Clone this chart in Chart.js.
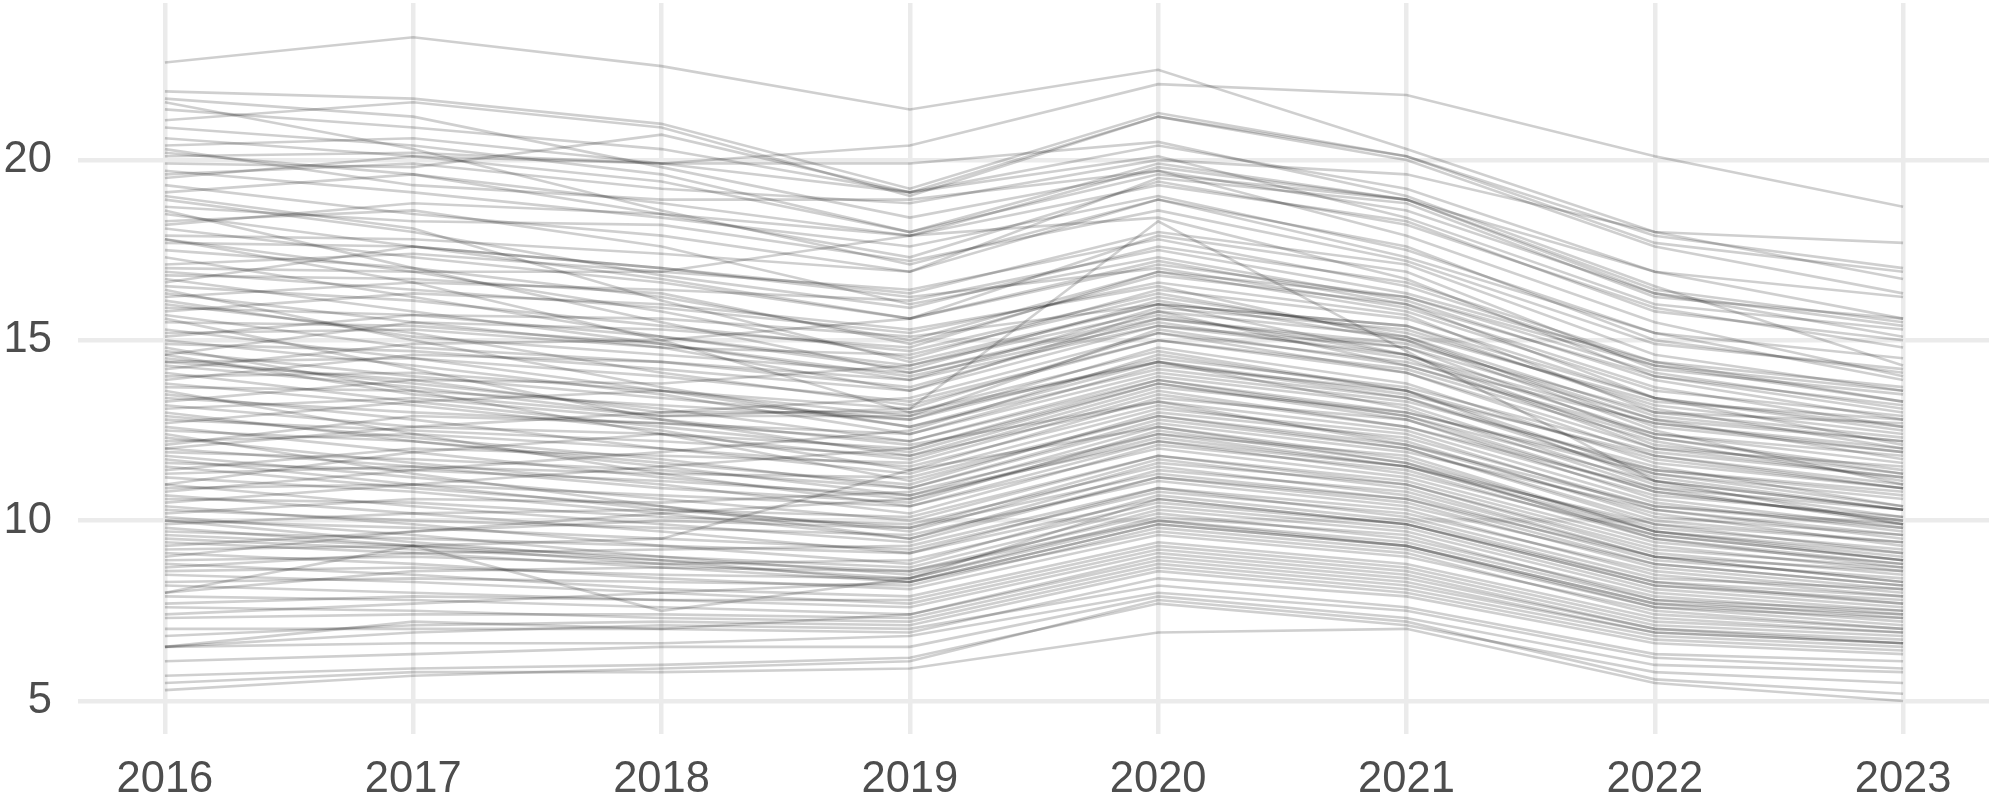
<!DOCTYPE html>
<html>
<head>
<meta charset="utf-8">
<script src="https://cdn.jsdelivr.net/npm/chart.js@4/dist/chart.umd.min.js"></script>
<style>
  html, body { margin: 0; padding: 0; background: #fff; }
  #chart { display: block; }
</style>
</head>
<body>
<canvas id="chart" width="1989" height="796"></canvas>
<script>
// Jahre (x-Achse)
const years = [2016, 2017, 2018, 2019, 2020, 2021, 2022, 2023];

// y-Achse: beschriftete Werte
const yTicks = [5, 10, 15, 20];

// eine Zeile = eine Linie, Werte für 2016 ... 2023
const series = [
    [22.7, 23.4, 22.6, 21.4, 22.5, 20.3, 18.0, 16.7],
    [21.9, 21.7, 21.0, 19.2, 21.3, 20.1, 17.9, 17.0],
    [21.7, 21.2, 19.8, 18.4, 19.7, 18.6, 16.3, 15.1],
    [21.4, 20.9, 20.3, 19.1, 20.4, 19.2, 16.9, 15.6],
    [21.1, 21.6, 20.9, 19.0, 21.2, 20.0, 17.6, 16.3],
    [20.9, 20.4, 19.6, 18.0, 19.6, 18.9, 16.4, 15.5],
    [20.6, 20.1, 19.9, 20.4, 22.1, 21.8, 20.1, 18.7],
    [20.4, 20.6, 19.9, 19.9, 20.5, 19.0, 16.5, 14.3],
    [20.2, 19.6, 18.5, 17.3, 19.4, 18.2, 15.9, 14.8],
    [20.1, 20.2, 19.9, 19.1, 20.1, 18.4, 16.0, 15.3],
    [19.9, 19.8, 20.7, 19.1, 21.2, 20.1, 17.7, 16.9],
    [19.7, 19.1, 18.4, 17.6, 19.0, 17.5, 15.2, 13.9],
    [19.5, 20.1, 19.4, 18.0, 19.9, 18.9, 16.9, 16.2],
    [19.3, 18.5, 17.9, 16.9, 18.9, 17.6, 15.0, 14.1],
    [19.1, 19.6, 18.8, 17.9, 19.3, 18.3, 15.8, 15.0],
    [18.9, 18.0, 16.8, 15.9, 17.6, 16.6, 14.4, 13.3],
    [18.7, 18.3, 18.2, 17.2, 18.6, 17.2, 14.9, 14.2],
    [18.5, 17.6, 17.0, 16.3, 18.0, 17.1, 14.6, 13.6],
    [18.3, 18.6, 17.6, 16.0, 17.3, 16.1, 13.9, 12.8],
    [18.1, 17.3, 16.6, 15.6, 17.9, 16.9, 14.2, 13.5],
    [17.9, 17.8, 17.4, 16.9, 19.5, 18.8, 16.2, 15.6],
    [17.8, 16.9, 15.8, 14.5, 16.4, 15.6, 13.4, 12.1],
    [17.7, 17.6, 16.7, 15.6, 17.2, 16.0, 13.4, 12.6],
    [17.5, 17.0, 16.2, 15.0, 16.9, 16.2, 14.1, 13.1],
    [17.3, 16.2, 15.1, 14.2, 16.1, 15.0, 12.8, 11.7],
    [17.1, 17.4, 16.9, 16.4, 17.8, 16.5, 14.3, 13.6],
    [16.9, 16.4, 15.9, 15.2, 16.6, 15.7, 13.0, 12.3],
    [16.8, 16.7, 16.3, 14.9, 16.8, 16.0, 14.0, 13.2],
    [16.7, 15.8, 14.9, 13.9, 15.4, 14.8, 12.3, 11.3],
    [16.5, 16.1, 15.4, 14.7, 16.3, 15.1, 12.6, 11.9],
    [16.3, 15.5, 14.8, 13.6, 15.8, 15.1, 12.9, 12.2],
    [16.2, 16.6, 16.4, 16.1, 17.5, 16.3, 14.4, 13.7],
    [16.0, 15.2, 14.1, 13.2, 15.0, 14.2, 12.2, 11.1],
    [15.9, 15.7, 15.6, 15.1, 16.0, 14.6, 12.4, 11.8],
    [15.7, 14.8, 14.4, 13.9, 15.9, 15.3, 13.2, 12.4],
    [15.5, 15.4, 14.9, 14.0, 15.5, 14.5, 12.0, 11.2],
    [15.3, 14.5, 13.6, 13.1, 15.2, 14.1, 11.8, 11.0],
    [15.2, 15.3, 14.8, 14.6, 16.2, 15.2, 13.3, 12.8],
    [15.0, 14.3, 13.5, 12.4, 14.3, 13.6, 11.3, 10.4],
    [14.9, 14.7, 14.2, 13.6, 15.4, 14.6, 12.7, 11.9],
    [14.7, 14.0, 13.4, 12.8, 14.8, 13.8, 11.6, 10.9],
    [14.5, 13.8, 13.1, 12.2, 14.0, 13.2, 11.0, 10.1],
    [14.4, 14.5, 14.0, 13.3, 15.0, 14.1, 12.0, 11.5],
    [14.3, 13.7, 12.9, 12.9, 15.3, 14.3, 12.4, 11.6],
    [14.1, 13.3, 12.6, 11.9, 13.8, 12.9, 10.8, 10.0],
    [14.0, 14.1, 13.6, 12.6, 14.4, 13.4, 11.4, 10.7],
    [13.8, 13.2, 12.5, 11.4, 13.4, 12.8, 10.6, 9.8],
    [13.7, 13.6, 13.2, 12.8, 14.5, 13.7, 11.9, 11.2],
    [13.5, 12.8, 12.0, 11.3, 13.1, 12.4, 10.3, 9.6],
    [13.4, 13.0, 12.7, 12.2, 13.9, 12.9, 11.1, 10.3],
    [13.2, 12.6, 12.4, 11.7, 13.6, 12.6, 10.7, 10.1],
    [13.1, 13.4, 12.8, 12.1, 13.3, 12.1, 10.2, 9.3],
    [12.9, 12.3, 11.7, 10.9, 12.8, 12.0, 10.0, 9.4],
    [12.8, 12.5, 12.2, 11.8, 13.7, 13.0, 11.4, 10.8],
    [12.6, 11.9, 11.2, 10.6, 12.4, 11.8, 9.7, 9.0],
    [12.5, 12.2, 11.6, 11.0, 13.0, 12.3, 10.4, 9.9],
    [12.3, 11.6, 11.0, 10.2, 12.1, 11.4, 9.5, 8.7],
    [12.2, 12.4, 12.0, 11.5, 13.2, 12.2, 10.1, 9.6],
    [12.0, 11.5, 10.9, 10.5, 12.5, 11.6, 9.8, 9.2],
    [11.9, 11.7, 11.4, 10.9, 12.7, 11.9, 10.3, 9.5],
    [11.8, 11.2, 10.6, 10.0, 11.8, 11.1, 9.3, 8.6],
    [11.6, 11.4, 11.1, 10.7, 12.2, 11.3, 9.6, 8.9],
    [11.5, 10.9, 10.4, 9.7, 11.6, 11.0, 9.1, 8.5],
    [11.3, 11.5, 11.3, 11.2, 12.9, 12.1, 10.4, 9.8],
    [11.2, 10.8, 10.2, 9.5, 11.4, 10.8, 9.0, 8.3],
    [11.0, 10.4, 9.9, 9.4, 11.2, 10.5, 8.7, 8.1],
    [10.9, 11.0, 10.7, 10.4, 12.0, 11.2, 9.4, 8.8],
    [10.7, 10.2, 9.7, 9.1, 10.9, 10.3, 8.5, 7.9],
    [10.6, 10.5, 10.1, 9.9, 11.5, 10.7, 8.9, 8.4],
    [10.4, 9.9, 9.3, 8.8, 10.7, 10.0, 8.3, 7.7],
    [10.3, 10.0, 9.8, 9.6, 11.1, 10.4, 8.8, 8.2],
    [10.1, 9.6, 9.0, 8.5, 10.3, 9.7, 8.0, 7.5],
    [10.0, 9.8, 9.5, 9.2, 10.8, 10.2, 8.6, 8.0],
    [9.8, 9.3, 8.8, 8.4, 10.1, 9.6, 7.8, 7.3],
    [9.7, 9.5, 9.3, 9.1, 10.6, 9.9, 8.2, 7.8],
    [9.5, 9.2, 8.9, 8.6, 10.2, 9.5, 7.9, 7.4],
    [9.4, 9.1, 8.7, 8.3, 9.9, 9.3, 7.7, 7.2],
    [9.2, 9.3, 9.0, 8.7, 10.4, 9.8, 8.1, 7.6],
    [9.1, 8.8, 8.4, 8.1, 9.6, 9.0, 7.5, 7.0],
    [8.9, 9.0, 8.8, 8.9, 10.5, 9.9, 8.3, 7.9],
    [8.8, 8.5, 8.1, 7.9, 9.4, 8.8, 7.3, 6.9],
    [8.6, 8.7, 8.5, 8.4, 10.0, 9.4, 7.8, 7.5],
    [8.5, 8.3, 8.0, 7.7, 9.2, 8.6, 7.1, 6.8],
    [8.3, 8.4, 8.3, 8.2, 9.8, 9.2, 7.6, 7.3],
    [8.2, 8.0, 7.8, 7.6, 9.1, 8.5, 7.0, 6.7],
    [8.0, 8.6, 8.7, 8.6, 10.0, 9.3, 7.7, 7.4],
    [7.9, 7.8, 7.6, 7.4, 8.9, 8.3, 6.9, 6.6],
    [7.7, 7.9, 7.8, 7.8, 9.3, 8.7, 7.2, 6.9],
    [7.6, 7.5, 7.3, 7.2, 8.7, 8.1, 6.8, 6.5],
    [7.3, 7.4, 7.4, 7.3, 8.8, 8.2, 6.9, 6.6],
    [7.0, 7.0, 7.0, 6.9, 8.4, 7.9, 6.6, 6.3],
    [6.8, 7.1, 7.2, 7.1, 8.6, 8.0, 6.7, 6.4],
    [6.5, 6.9, 7.1, 7.0, 8.2, 7.6, 6.3, 6.1],
    [6.5, 6.6, 6.6, 6.8, 8.0, 7.5, 6.2, 5.9],
    [6.1, 6.3, 6.5, 6.5, 7.9, 7.3, 6.0, 5.8],
    [5.7, 5.9, 6.0, 6.2, 7.7, 7.1, 5.8, 5.5],
    [5.5, 5.8, 5.8, 5.9, 6.9, 7.0, 5.5, 5.0],
    [5.3, 5.7, 5.9, 6.1, 7.8, 7.2, 5.6, 5.2],
    [14.6, 13.5, 12.9, 13.1, 18.3, 14.7, 11.1, 9.9],
    [8.0, 9.3, 7.5, 8.4, 10.6, 9.9, 8.2, 7.7],
    [6.5, 7.2, 7.0, 7.4, 9.0, 8.4, 7.0, 6.6],
    [11.0, 11.9, 12.4, 12.0, 13.9, 13.0, 11.3, 10.6],
    [9.6, 9.3, 9.5, 11.4, 12.6, 11.6, 9.5, 8.8],
    [17.8, 16.6, 15.0, 13.0, 14.4, 13.5, 11.8, 10.9],
    [16.6, 17.6, 17.0, 16.2, 17.0, 15.9, 13.7, 12.6],
    [19.0, 18.1, 16.1, 14.4, 16.0, 15.4, 13.1, 12.0],
    [21.6, 20.3, 18.6, 17.1, 18.9, 17.3, 15.2, 14.5],
    [20.3, 19.3, 18.9, 18.9, 19.7, 17.9, 15.5, 14.0],
    [15.8, 16.3, 16.0, 15.3, 16.5, 15.0, 12.5, 11.0],
    [14.6, 15.5, 15.3, 14.8, 16.9, 15.8, 13.6, 12.9],
    [13.9, 14.6, 14.4, 13.7, 15.6, 14.8, 12.8, 12.2],
    [13.3, 13.9, 13.8, 14.3, 16.0, 15.4, 13.4, 12.5],
    [12.7, 13.3, 13.6, 12.9, 14.4, 13.1, 10.9, 9.9],
    [12.1, 12.9, 12.7, 12.4, 14.1, 13.3, 11.5, 10.4],
    [11.4, 12.0, 11.8, 11.6, 13.5, 12.6, 10.9, 10.3],
    [10.5, 11.0, 11.5, 12.0, 13.8, 12.8, 10.8, 10.0],
    [10.2, 10.6, 10.5, 10.8, 12.4, 11.5, 9.9, 9.4],
    [9.9, 10.2, 10.3, 10.1, 11.8, 11.0, 9.2, 8.7],
    [9.3, 9.7, 10.0, 9.8, 11.3, 10.6, 9.0, 8.6],
    [8.7, 9.1, 9.2, 9.3, 10.9, 10.1, 8.4, 8.1],
    [14.8, 13.6, 12.4, 11.1, 12.9, 12.0, 9.9, 9.1],
    [16.4, 15.0, 13.7, 12.6, 14.2, 13.4, 11.2, 10.3],
    [18.6, 17.0, 15.5, 14.1, 15.7, 14.6, 12.1, 11.3],
    [15.6, 14.2, 12.8, 11.8, 13.3, 12.5, 10.5, 9.7],
    [13.6, 12.4, 11.3, 10.4, 12.2, 11.5, 9.6, 8.9],
    [12.4, 11.3, 10.4, 9.5, 11.2, 10.6, 8.8, 8.2],
    [17.0, 16.9, 16.9, 17.9, 19.8, 18.9, 16.3, 15.4],
    [18.2, 18.8, 18.5, 17.9, 18.4, 16.7, 14.0, 13.0],
    [14.2, 14.9, 15.0, 15.6, 17.1, 16.2, 14.3, 13.3],
    [12.0, 12.6, 13.0, 13.4, 15.2, 14.4, 12.7, 12.0],
    [10.8, 11.4, 11.9, 12.5, 14.6, 13.6, 11.7, 10.9],
    [9.0, 9.7, 10.2, 10.6, 12.3, 11.5, 9.7, 9.1],
    [7.4, 7.7, 8.0, 8.3, 9.7, 9.1, 7.4, 7.0],
    [16.1, 15.1, 14.6, 14.1, 15.6, 14.9, 13.0, 12.7],
    [19.6, 19.9, 19.2, 18.8, 20.0, 19.6, 18.0, 17.7],
    [13.0, 12.2, 11.5, 10.7, 12.6, 11.7, 9.7, 8.9],
    [11.7, 11.0, 10.3, 9.8, 11.7, 10.9, 9.0, 8.3],
    [10.0, 9.4, 8.9, 8.3, 9.9, 9.3, 7.6, 7.1],
    [14.4, 13.9, 13.0, 13.0, 14.7, 13.6, 11.1, 10.3],
    [15.1, 15.7, 15.1, 14.3, 15.8, 14.3, 12.3, 11.4]
];

const lineColor = 'rgba(0, 0, 0, 0.19)';
const gridColor = '#ebebeb';
const textColor = '#4d4d4d';
const tickFont = { family: "'Liberation Sans', Arial, sans-serif", size: 43.5, lineHeight: 1 };

const datasets = series.map(row => ({
    data: row.map((v, i) => ({ x: years[i], y: v })),
    borderColor: lineColor,
    borderWidth: 2.6,
    pointRadius: 0,
    tension: 0,
    fill: false
}));

new Chart(document.getElementById('chart'), {
    type: 'line',
    data: { datasets: datasets },
    options: {
        responsive: false,
        animation: false,
        layout: { padding: { top: 3, right: 0, bottom: 0, left: 0 } },
        plugins: {
            legend: { display: false },
            tooltip: { enabled: false }
        },
        scales: {
            x: {
                type: 'linear',
                min: 2015.65,
                max: 2023.346,
                afterBuildTicks: scale => { scale.ticks = years.map(v => ({ value: v })); },
                afterFit: scale => {
                    scale.height = 62;
                    scale.paddingLeft = 0;
                    scale.paddingRight = 0;
                },
                ticks: {
                    font: tickFont,
                    color: textColor,
                    padding: 24,
                    maxRotation: 0,
                    callback: v => String(v)
                },
                grid: { color: gridColor, lineWidth: 4.5, drawTicks: false },
                border: { display: false }
            },
            y: {
                min: 4.085,
                max: 24.35,
                afterBuildTicks: scale => { scale.ticks = yTicks.map(v => ({ value: v })); },
                afterFit: scale => {
                    scale.width = 78;
                    scale.paddingTop = 0;
                    scale.paddingBottom = 0;
                },
                ticks: {
                    font: tickFont,
                    color: textColor,
                    padding: 26
                },
                grid: { color: gridColor, lineWidth: 4.5, drawTicks: false },
                border: { display: false }
            }
        }
    }
});
</script>
</body>
</html>
